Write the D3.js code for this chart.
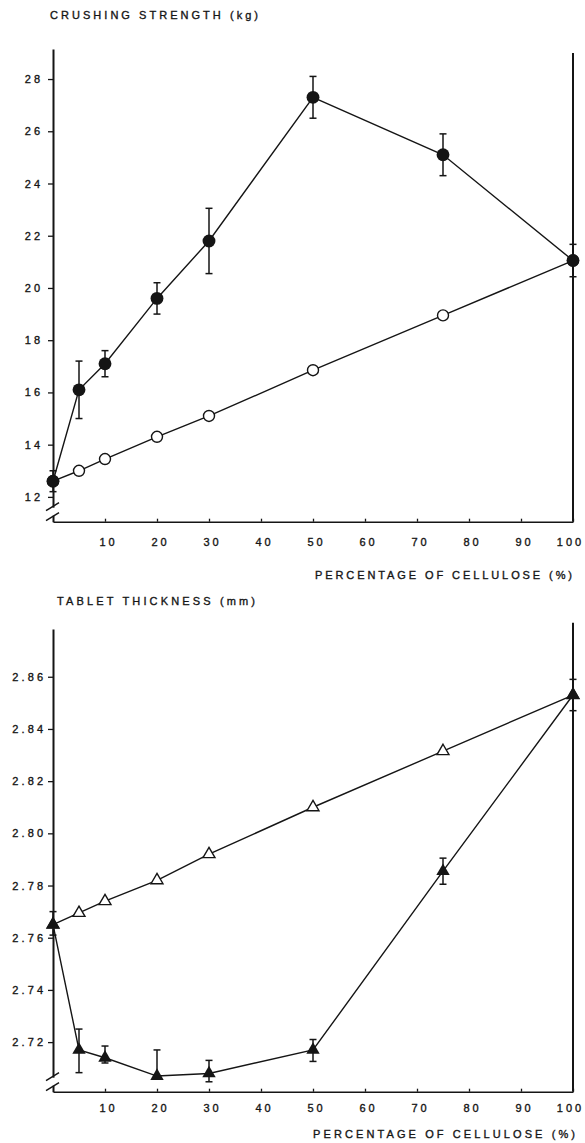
<!DOCTYPE html>
<html>
<head>
<meta charset="utf-8">
<script src="https://cdn.jsdelivr.net/npm/d3@7"></script>
<style>
  html, body { margin: 0; padding: 0; background: #fff; }
  svg { display: block; }
</style>
</head>
<body>
<script>
// Cellulose content of the tablets (%)
const cellulose = [0, 5, 10, 20, 30, 50, 75, 100];
const xTicks = [10, 20, 30, 40, 50, 60, 70, 80, 90, 100];

// Crushing strength (kg): measured mixtures (mean ± SD) and the additive line
const strengthMixture = [12.6, 16.1, 17.1, 19.6, 21.8, 27.3, 25.1, 21.05];
const strengthMixtureSD = [0.4, 1.1, 0.5, 0.6, 1.25, 0.8, 0.8, 0.62];
const strengthAdditive = [12.6, 13.0, 13.45, 14.3, 15.1, 16.85, 18.95, 21.05];
const strengthTicks = [12, 14, 16, 18, 20, 22, 24, 26, 28];

// Tablet thickness (mm): measured mixtures (mean, upper/lower SD) and the additive line
const thicknessMixture = [2.765, 2.717, 2.714, 2.707, 2.708, 2.717, 2.7855, 2.853];
const thicknessSDUp = [0.005, 0.008, 0.0045, 0.010, 0.005, 0.004, 0.005, 0.006];
const thicknessSDDown = [0.004, 0.0087, 0.002, 0, 0.0032, 0.0044, 0.005, 0.006];
const thicknessAdditive = [2.765, 2.7695, 2.774, 2.782, 2.792, 2.810, 2.8315, 2.853];
const thicknessTicks = [2.72, 2.74, 2.76, 2.78, 2.80, 2.82, 2.84, 2.86];

const W = 585, H = 1143;
const INK = "#151515";
const FONT = "'Liberation Sans', Arial, Helvetica, sans-serif";

const svg = d3.select("body").append("svg")
  .attr("width", W).attr("height", H)
  .attr("viewBox", `0 0 ${W} ${H}`);

// slightly heavier type, like the typewriter-set labels
function ink(sel) {
  sel.attr("font-family", FONT).attr("font-size", 11).attr("fill", INK)
    .attr("stroke", INK).attr("stroke-width", 0.35);
}

function drawPanel(o) {
  const g = svg.append("g");
  const x = d3.scaleLinear().domain([0, 100]).range([o.left, o.right]);
  const y = d3.scaleLinear().domain(o.yDomain).range([o.bottom, o.top]);

  // axis titles
  g.append("text")
    .attr("x", o.yTitle.x).attr("y", o.yTitle.y)
    .attr("textLength", o.yTitle.w).attr("lengthAdjust", "spacing")
    .call(ink)
    .text(o.yLabel);
  g.append("text")
    .attr("x", o.xTitle.x).attr("y", o.xTitle.y)
    .attr("textLength", o.xTitle.w).attr("lengthAdjust", "spacing")
    .call(ink)
    .text("PERCENTAGE OF CELLULOSE (%)");

  // left value axis
  const ya = g.append("g")
    .attr("transform", `translate(${o.left},0)`)
    .call(d3.axisLeft(y).tickValues(o.yTicks).tickFormat(o.fmt)
      .tickSize(5).tickSizeOuter(0).tickPadding(o.yPad));
  ya.select(".domain").attr("stroke", INK).attr("stroke-width", 2);
  ya.selectAll(".tick line").attr("stroke", INK).attr("stroke-width", 1.3);
  ya.selectAll(".tick text").call(ink)
    .attr("letter-spacing", 3.1).attr("dx", 3.1);

  // bottom cellulose axis, ticks pointing inwards
  const xa = g.append("g")
    .attr("transform", `translate(0,${o.bottom})`)
    .call(d3.axisBottom(x).tickValues(xTicks)
      .tickSize(-3).tickSizeOuter(0).tickPadding(o.xPad));
  xa.select(".domain").attr("stroke", INK).attr("stroke-width", 1.6);
  xa.selectAll(".tick line").attr("stroke", INK).attr("stroke-width", 1.3);
  xa.selectAll(".tick text").call(ink)
    .attr("letter-spacing", 3.1)
    .attr("dx", d => d === 100 ? -3 : 3.1);

  // right frame line
  g.append("line")
    .attr("x1", o.right).attr("x2", o.right)
    .attr("y1", o.rightTop).attr("y2", o.bottom)
    .attr("stroke", INK).attr("stroke-width", 2);

  // axis break on the value axis
  g.append("rect")
    .attr("x", o.left - 2).attr("y", o.bottom - 14)
    .attr("width", 4).attr("height", 8).attr("fill", "#fff");
  [o.bottom - 15, o.bottom - 5].forEach(yb => {
    g.append("line")
      .attr("x1", o.left - 7).attr("y1", yb + 4)
      .attr("x2", o.left + 6).attr("y2", yb - 4)
      .attr("stroke", INK).attr("stroke-width", 1.5);
  });

  const line = d3.line().x(d => x(d.x)).y(d => y(d.y));
  const additive = cellulose.map((c, i) => ({ x: c, y: o.additive[i] }));
  const mixture = cellulose.map((c, i) => ({
    x: c, y: o.mixture[i], up: o.sdUp[i], down: o.sdDown[i]
  }));

  g.append("path").datum(additive).attr("d", line)
    .attr("fill", "none").attr("stroke", INK).attr("stroke-width", 1.4);
  g.append("path").datum(mixture).attr("d", line)
    .attr("fill", "none").attr("stroke", INK).attr("stroke-width", 1.4);

  // error bars
  const eb = g.append("g").attr("stroke", INK).attr("stroke-width", 1.5);
  mixture.forEach(d => {
    const cx = x(d.x);
    eb.append("line").attr("x1", cx).attr("x2", cx)
      .attr("y1", y(d.y + d.up)).attr("y2", y(d.y - d.down));
    if (d.up > 0) eb.append("line").attr("x1", cx - 3.5).attr("x2", cx + 3.5)
      .attr("y1", y(d.y + d.up)).attr("y2", y(d.y + d.up));
    if (d.down > 0) eb.append("line").attr("x1", cx - 3.5).attr("x2", cx + 3.5)
      .attr("y1", y(d.y - d.down)).attr("y2", y(d.y - d.down));
  });

  // markers: open for the additive line, filled for measured mixtures
  g.selectAll(".open").data(additive).join("path")
    .attr("transform", d => `translate(${x(d.x)},${y(d.y)})`)
    .attr("d", d3.symbol(o.symbol, o.openSize))
    .attr("fill", "#fff").attr("stroke", INK).attr("stroke-width", 1.4);
  g.selectAll(".filled").data(mixture).join("path")
    .attr("transform", d => `translate(${x(d.x)},${y(d.y)})`)
    .attr("d", d3.symbol(o.symbol, o.filledSize))
    .attr("fill", INK);
}

drawPanel({
  left: 53, right: 573, top: 49, bottom: 521.7, rightTop: 53,
  yDomain: [11.05, 29.15],
  yTicks: strengthTicks, fmt: d3.format("d"), yPad: 8,
  xPad: 17,
  yLabel: "CRUSHING STRENGTH (kg)",
  yTitle: { x: 50, y: 19, w: 208 },
  xTitle: { x: 315, y: 579, w: 257 },
  mixture: strengthMixture, sdUp: strengthMixtureSD, sdDown: strengthMixtureSD,
  additive: strengthAdditive,
  symbol: d3.symbolCircle, openSize: 95, filledSize: 130
});

drawPanel({
  left: 53, right: 573, top: 629, bottom: 1091.7, rightTop: 622.7,
  yDomain: [2.701, 2.8783],
  yTicks: thicknessTicks, fmt: d3.format(".2f"), yPad: 5,
  xPad: 13,
  yLabel: "TABLET THICKNESS (mm)",
  yTitle: { x: 57, y: 605, w: 198 },
  xTitle: { x: 313, y: 1138, w: 262 },
  mixture: thicknessMixture, sdUp: thicknessSDUp, sdDown: thicknessSDDown,
  additive: thicknessAdditive,
  symbol: d3.symbolTriangle, openSize: 62, filledSize: 78
});
</script>
</body>
</html>
